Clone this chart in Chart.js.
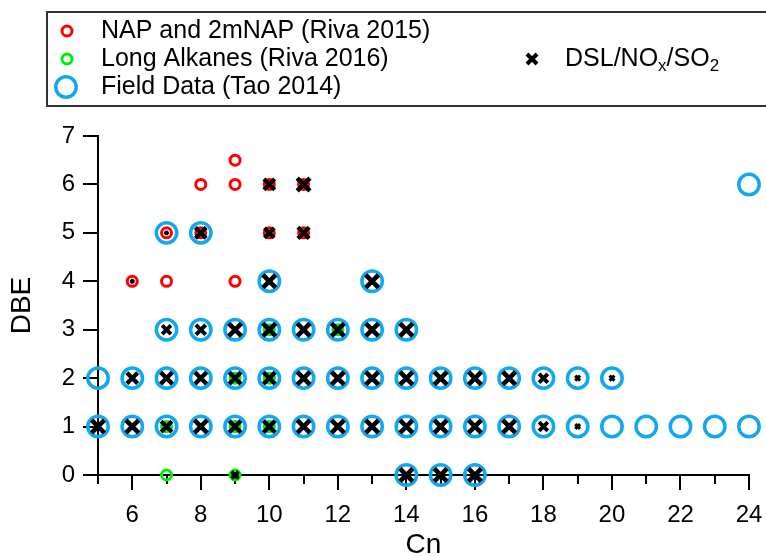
<!DOCTYPE html>
<html>
<head>
<meta charset="utf-8">
<script src="https://cdn.jsdelivr.net/npm/chart.js@4.4.1/dist/chart.umd.min.js"></script>
<style>
  html, body { margin: 0; background: #fff; }
  #wrap { position: relative; width: 766px; height: 556px; }
</style>
</head>
<body>
<div id="wrap"><canvas id="dbeChart" width="766" height="556"></canvas></div>
<script>
// NAP and 2mNAP (Riva 2015)
const napCn  = [9,   8, 9, 10, 11, 7, 8, 10, 11, 6, 7, 9];
const napDbe = [6.5, 6, 6, 6,  6,  5, 5, 5,  5,  4, 4, 4];

// Long Alkanes (Riva 2016)
const alkCn  = [7, 9, 7, 9, 10, 9, 10, 10, 12];
const alkDbe = [0, 0, 1, 1, 1,  2, 2,  3,  3];

// Field Data (Tao 2014)
const fieldCn  = [24, 7, 8, 10, 13,
  7, 8, 9, 10, 11, 12, 13, 14,
  5, 6, 7, 8, 9, 10, 11, 12, 13, 14, 15, 16, 17, 18, 19, 20,
  5, 6, 7, 8, 9, 10, 11, 12, 13, 14, 15, 16, 17, 18, 19, 20, 21, 22, 23, 24,
  14, 15, 16];
const fieldDbe = [6, 5, 5, 4, 4,
  3, 3, 3, 3, 3, 3, 3, 3,
  2, 2, 2, 2, 2, 2, 2, 2, 2, 2, 2, 2, 2, 2, 2, 2,
  1, 1, 1, 1, 1, 1, 1, 1, 1, 1, 1, 1, 1, 1, 1, 1, 1, 1, 1, 1,
  0, 0, 0];

// DSL/NOx/SO2 chamber products, with relative signal (0..1)
const dslCn  = [10, 11,
  7, 8, 10, 11,
  6, 10, 13,
  7, 8, 9, 10, 11, 12, 13, 14,
  6, 7, 8, 9, 10, 11, 12, 13, 14, 15, 16, 17, 18, 19, 20,
  5, 6, 7, 8, 9, 10, 11, 12, 13, 14, 15, 16, 17, 18, 19,
  9, 14, 15, 16];
const dslDbe = [6, 6,
  5, 5, 5, 5,
  4, 4, 4,
  3, 3, 3, 3, 3, 3, 3, 3,
  2, 2, 2, 2, 2, 2, 2, 2, 2, 2, 2, 2, 2, 2, 2,
  1, 1, 1, 1, 1, 1, 1, 1, 1, 1, 1, 1, 1, 1, 1,
  0, 0, 0, 0];
const dslSignal = [0.8, 1.0,
  0.05, 0.8, 0.7, 0.85,
  0.05, 1.0, 1.0,
  0.6, 0.7, 1.0, 1.0, 1.0, 1.0, 1.0, 1.0,
  0.8, 0.9, 0.9, 0.9, 0.9, 1.0, 1.0, 1.0, 1.0, 1.0, 1.0, 1.0, 0.6, 0.2, 0.2,
  1.0, 1.0, 0.8, 1.0, 0.9, 0.9, 1.0, 1.0, 1.0, 1.0, 1.0, 1.0, 1.0, 0.6, 0.2,
  0.4, 1.0, 1.0, 1.0];

const xTicks = [5, 6, 7, 8, 9, 10, 11, 12, 13, 14, 15, 16, 17, 18, 19, 20, 21, 22, 23, 24];
const yTicks = [0, 1, 2, 3, 4, 5, 6, 7];

const FONT = "'Liberation Sans', Arial, sans-serif";
const RED = '#ff0000';
const GREEN = '#00ee00';
const BLUE = '#12a8f0';

const toPoints = (xs, ys) => xs.map((x, i) => ({ x: x, y: ys[i] }));

Chart.defaults.font.family = FONT;
Chart.defaults.color = '#000';

// tick marks: long on even Cn, short on odd Cn
const tickMarks = {
  id: 'tickMarks',
  beforeDatasetsDraw(chart) {
    const { ctx, scales: { x, y } } = chart;
    ctx.save();
    ctx.strokeStyle = '#000';
    ctx.lineWidth = 2;
    ctx.beginPath();
    xTicks.forEach(v => {
      const px = Math.round(x.getPixelForValue(v));
      const len = v % 2 === 0 ? 15 : 9;
      ctx.moveTo(px, y.bottom);
      ctx.lineTo(px, y.bottom + len);
    });
    yTicks.forEach(v => {
      const py = Math.round(y.getPixelForValue(v));
      ctx.moveTo(x.left, py);
      ctx.lineTo(x.left - 15, py);
    });
    ctx.stroke();
    ctx.restore();
  }
};

// boxed legend above the plot, two columns
const boxLegend = {
  id: 'boxLegend',
  afterDraw(chart) {
    const ctx = chart.ctx;
    ctx.save();
    ctx.strokeStyle = '#333';
    ctx.lineWidth = 2;
    ctx.strokeRect(47, 12, 760, 94);

    const ring = (x, y, r, w, color) => {
      ctx.beginPath();
      ctx.arc(x, y, r, 0, Math.PI * 2);
      ctx.strokeStyle = color;
      ctx.lineWidth = w;
      ctx.stroke();
    };
    ring(67, 31, 5, 3, RED);
    ring(67, 59, 5, 3, GREEN);
    ring(66, 87, 10.2, 3.5, BLUE);

    // cross marker
    ctx.beginPath();
    ctx.strokeStyle = '#000';
    ctx.lineWidth = 4;
    ctx.moveTo(527, 54); ctx.lineTo(537, 64);
    ctx.moveTo(537, 54); ctx.lineTo(527, 64);
    ctx.stroke();

    ctx.fillStyle = '#000';
    ctx.textBaseline = 'middle';
    ctx.textAlign = 'left';
    ctx.font = '25px ' + FONT;
    ctx.fillText('NAP and 2mNAP (Riva 2015)', 101, 31);
    ctx.fillText('Long Alkanes (Riva 2016)', 101, 59);
    ctx.fillText('Field Data (Tao 2014)', 101, 87);

    // DSL/NOx/SO2 with subscripts
    const sub = '17px ' + FONT;
    const big = '25px ' + FONT;
    let tx = 565;
    const parts = [['DSL/NO', big, 0], ['x', sub, 7], ['/SO', big, 0], ['2', sub, 7]];
    parts.forEach(([t, f, dy]) => {
      ctx.font = f;
      ctx.fillText(t, tx, 59 + dy);
      tx += ctx.measureText(t).width;
    });
    ctx.restore();
  }
};

new Chart(document.getElementById('dbeChart'), {
  type: 'scatter',
  data: {
    datasets: [
      {
        label: 'DSL/NOx/SO2',
        data: toPoints(dslCn, dslDbe),
        pointStyle: 'crossRot',
        borderColor: '#000',
        backgroundColor: '#000',
        pointRadius: ctx => 2 + 7 * dslSignal[ctx.dataIndex],
        pointBorderWidth: ctx => 2.8 + 1.8 * dslSignal[ctx.dataIndex],
        clip: false,
        order: 0
      },
      {
        label: 'Long Alkanes (Riva 2016)',
        data: toPoints(alkCn, alkDbe),
        pointStyle: 'circle',
        borderColor: GREEN,
        backgroundColor: 'rgba(0,0,0,0)',
        pointRadius: 5,
        pointBorderWidth: 3,
        clip: false,
        order: 1
      },
      {
        label: 'NAP and 2mNAP (Riva 2015)',
        data: toPoints(napCn, napDbe),
        pointStyle: 'circle',
        borderColor: RED,
        backgroundColor: 'rgba(0,0,0,0)',
        pointRadius: 5,
        pointBorderWidth: 3,
        clip: false,
        order: 2
      },
      {
        label: 'Field Data (Tao 2014)',
        data: toPoints(fieldCn, fieldDbe),
        pointStyle: 'circle',
        borderColor: BLUE,
        backgroundColor: 'rgba(0,0,0,0)',
        pointRadius: 10.2,
        pointBorderWidth: 3.5,
        clip: false,
        order: 3
      }
    ]
  },
  options: {
    responsive: false,
    animation: false,
    events: [],
    layout: { padding: { top: 136, right: 17, left: 0, bottom: 0 } },
    plugins: { legend: { display: false }, tooltip: { enabled: false } },
    scales: {
      x: {
        type: 'linear',
        min: 5,
        max: 24,
        afterFit: s => { s.height = 81; s.paddingLeft = 0; s.paddingRight = 0; },
        afterBuildTicks: s => { s.ticks = xTicks.map(v => ({ value: v })); },
        border: { display: true, color: '#000', width: 2 },
        grid: { drawOnChartArea: false, drawTicks: false },
        ticks: {
          autoSkip: false,
          maxRotation: 0,
          padding: 26,
          font: { size: 24 },
          callback: v => (v % 2 === 0 ? String(v) : '')
        },
        title: {
          display: true,
          text: 'Cn',
          font: { size: 28, lineHeight: 1 },
          padding: { top: 0, bottom: -3 }
        }
      },
      y: {
        type: 'linear',
        min: 0,
        max: 7,
        afterFit: s => { s.width = 98; s.paddingTop = 0; s.paddingBottom = 0; },
        afterBuildTicks: s => { s.ticks = yTicks.map(v => ({ value: v })); },
        border: { display: true, color: '#000', width: 2 },
        grid: { drawOnChartArea: false, drawTicks: false },
        ticks: {
          padding: 23,
          font: { size: 24 }
        },
        title: {
          display: true,
          text: 'DBE',
          font: { size: 28, lineHeight: 1 },
          padding: { top: 8, bottom: 0 }
        }
      }
    }
  },
  plugins: [tickMarks, boxLegend]
});
</script>
</body>
</html>
